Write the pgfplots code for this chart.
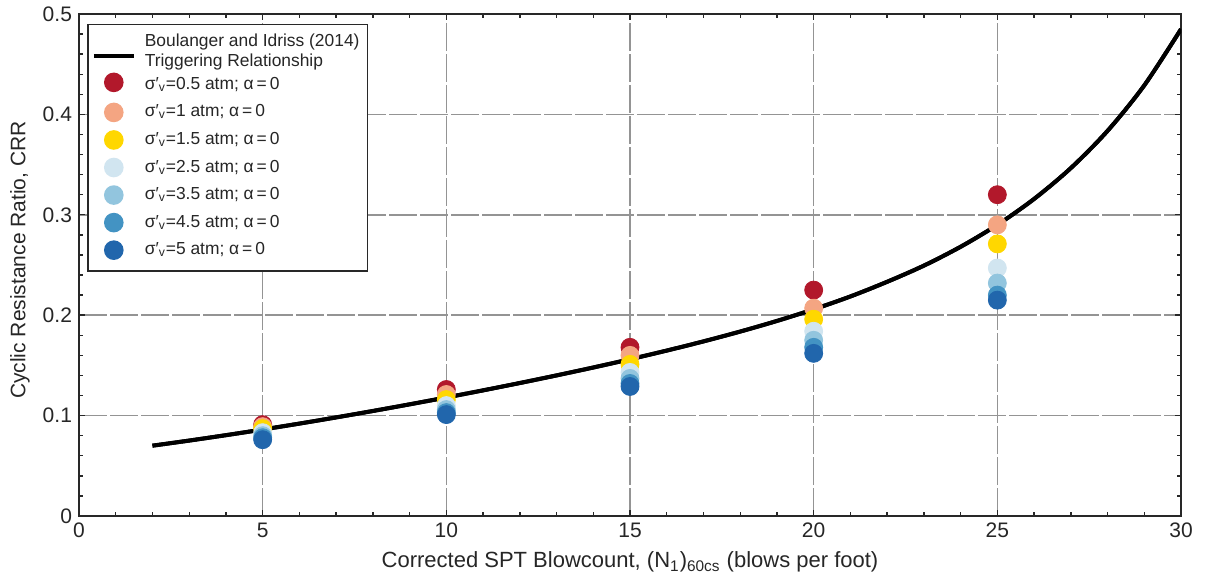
\documentclass[border=0pt]{standalone}
\usepackage{fontspec}
\setmainfont{Liberation Sans}
\usepackage{pgfplots}
\usepackage{pgfplotstable}
\pgfplotsset{compat=1.18}
\definecolor{c1}{RGB}{178,24,43}
\definecolor{c2}{RGB}{244,165,130}
\definecolor{c3}{RGB}{255,215,0}
\definecolor{c4}{RGB}{209,229,240}
\definecolor{c5}{RGB}{146,197,222}
\definecolor{c6}{RGB}{67,147,195}
\definecolor{c7}{RGB}{33,102,172}
\definecolor{axc}{RGB}{40,40,40}

\pgfplotstableread{
N CRR
2 0.07004
3 0.07513
4 0.08050
5 0.08614
6 0.09204
7 0.09820
8 0.10459
9 0.11121
10 0.11806
11 0.12514
12 0.13245
13 0.14003
14 0.14790
15 0.15612
16 0.16476
17 0.17391
18 0.18370
19 0.19428
20 0.20585
21 0.21867
22 0.23326
23 0.24937
24 0.26815
25 0.29000
26 0.31578
27 0.34651
28 0.38360
29 0.42891
30 0.48491
}\curve

\pgfplotstableread{
N s05 s1 s15 s25 s35 s45 s5
5 0.091 0.089 0.087 0.083 0.080 0.078 0.076
10 0.126 0.121 0.116 0.110 0.106 0.103 0.101
15 0.168 0.160 0.151 0.143 0.137 0.132 0.129
20 0.225 0.207 0.196 0.184 0.175 0.168 0.162
25 0.320 0.290 0.271 0.247 0.232 0.220 0.215
}\pts

\begin{document}
\begin{tikzpicture}
\begin{axis}[
  name=ax,
  scale only axis,
  width=551pt, height=251pt,
  xmin=0, xmax=30, ymin=0, ymax=0.5,
  xtick={0,5,...,30},
  ytick={0,0.1,0.2,0.3,0.4,0.5},
  minor x tick num=4, minor y tick num=4,
  grid=major,
  major grid style={draw=black!42, line width=0.8pt, dash pattern=on 14pt off 1.5pt},
  axis line style={line width=0.8pt, draw=axc},
  tick style={line width=0.7pt, draw=axc},
  major tick length=3pt, minor tick length=2pt,
  /pgf/number format/assume math mode=true,
  yticklabel style={/pgf/number format/fixed},
  ticklabel style={font=\fontsize{10.5}{12}\selectfont, text=black!85},
  xlabel={Corrected SPT Blowcount, (N\textsubscript{1})\textsubscript{60cs} (blows per foot)},
  ylabel={Cyclic Resistance Ratio, CRR},
  xlabel style={font=\fontsize{11}{13}\selectfont, text=black!85, at={(axis description cs:0.5,-0.092)}, anchor=center},
  ylabel style={font=\fontsize{10.5}{12}\selectfont, text=black!85, at={(axis description cs:-0.0535,0.51)}, anchor=center},
  legend cell align=left,
  legend style={at={(axis description cs:0,1)}, anchor=north west, xshift=4pt, yshift=-4.8pt,
    draw=axc, line width=0.8pt, font=\fontsize{8.7}{10}\selectfont, text=black!85,
    row sep=2.2pt, column sep=2.5pt, inner xsep=2pt, inner ysep=4.5pt},
  mark size=4.5pt,
]
\addplot[black, line width=2pt, smooth,
  legend image code/.code={\draw[line width=2pt] (0pt,-3.8pt) -- (20pt,-3.8pt);}]
  table[x=N, y=CRR] {\curve};
\addlegendentry{\raisebox{0pt}[\dimexpr\height-2.5pt\relax][\depth]{\begin{tabular}{@{}l@{}}Boulanger and Idriss (2014)\\Triggering Relationship\end{tabular}}}

\pgfplotsset{every axis plot/.append style={only marks, mark=*,
  legend image code/.code={\draw[##1] plot coordinates {(10pt,0pt)};}}}
\addplot[c1, mark options={fill=c1, draw=c1}] table[x=N, y=s05] {\pts};
\addlegendentry{\raisebox{0pt}[\dimexpr\height+2.5pt\relax][\depth]{σ′\textsubscript{v}=0.5 atm; α\,=\,0}}
\addplot[c2, mark options={fill=c2, draw=c2}] table[x=N, y=s1] {\pts};
\addlegendentry{σ′\textsubscript{v}=1 atm; α\,=\,0}
\addplot[c3, mark options={fill=c3, draw=c3}] table[x=N, y=s15] {\pts};
\addlegendentry{σ′\textsubscript{v}=1.5 atm; α\,=\,0}
\addplot[c4, mark options={fill=c4, draw=c4}] table[x=N, y=s25] {\pts};
\addlegendentry{σ′\textsubscript{v}=2.5 atm; α\,=\,0}
\addplot[c5, mark options={fill=c5, draw=c5}] table[x=N, y=s35] {\pts};
\addlegendentry{σ′\textsubscript{v}=3.5 atm; α\,=\,0}
\addplot[c6, mark options={fill=c6, draw=c6}] table[x=N, y=s45] {\pts};
\addlegendentry{σ′\textsubscript{v}=4.5 atm; α\,=\,0}
\addplot[c7, mark options={fill=c7, draw=c7}] table[x=N, y=s5] {\pts};
\addlegendentry{σ′\textsubscript{v}=5 atm; α\,=\,0}

\addplot[black, line width=2pt, smooth, no marks, forget plot] table[x=N, y=CRR] {\curve};
\end{axis}
\pgfresetboundingbox
\path ([xshift=-39.5pt,yshift=-30.5pt]ax.south west) rectangle ([xshift=12.5pt,yshift=7pt]ax.north east);
\end{tikzpicture}
\end{document}
